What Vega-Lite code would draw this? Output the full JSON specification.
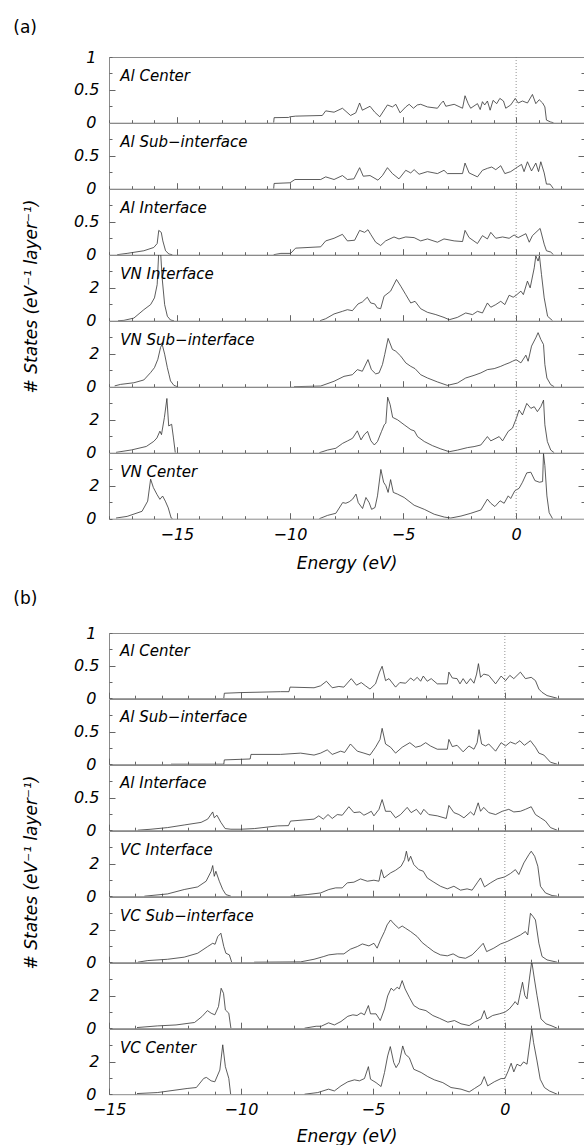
{
"$schema": "https://vega.github.io/schema/vega-lite/v6.json",
"padding": {"left": 13, "top": 18, "right": 1, "bottom": 0},
"config": {
 "font": "DejaVu Sans",
 "view": {"stroke": "#8a8a8a", "strokeWidth": 1},
 "axis": {"domain": false, "grid": false, "ticks": true, "tickDash": [], "labelFont": "DejaVu Sans", "labelFontStyle": "italic", "labelFontSize": 16, "labelColor": "#000", "tickColor": "#666", "tickWidth": 1, "titleFont": "DejaVu Sans", "titleFontStyle": "italic", "titleFontWeight": "normal", "titleFontSize": 17, "titleColor": "#000", "labelOverlap": false, "labelFlush": false, "zindex": 1}
},
"datasets": {
 "a1": [{"x":-10.72,"y":0},{"x":-10.7,"y":0.077},{"x":-10.06,"y":0.08},{"x":-10.0,"y":0.09},{"x":-9.75,"y":0.1},{"x":-8.57,"y":0.11},{"x":-8.42,"y":0.18},{"x":-8.05,"y":0.16},{"x":-7.68,"y":0.22},{"x":-7.32,"y":0.11},{"x":-7.09,"y":0.15},{"x":-6.92,"y":0.3},{"x":-6.8,"y":0.19},{"x":-6.46,"y":0.25},{"x":-6.25,"y":0.16},{"x":-6.03,"y":0.09},{"x":-5.69,"y":0.27},{"x":-5.47,"y":0.24},{"x":-5.32,"y":0.28},{"x":-5.13,"y":0.15},{"x":-4.88,"y":0.24},{"x":-4.73,"y":0.28},{"x":-4.54,"y":0.22},{"x":-4.37,"y":0.27},{"x":-4.22,"y":0.28},{"x":-3.92,"y":0.24},{"x":-3.48,"y":0.22},{"x":-3.33,"y":0.29},{"x":-3.22,"y":0.33},{"x":-3.11,"y":0.25},{"x":-2.74,"y":0.28},{"x":-2.37,"y":0.22},{"x":-2.26,"y":0.41},{"x":-2.12,"y":0.29},{"x":-2.01,"y":0.22},{"x":-1.71,"y":0.29},{"x":-1.59,"y":0.2},{"x":-1.49,"y":0.32},{"x":-1.39,"y":0.27},{"x":-1.27,"y":0.33},{"x":-1.15,"y":0.19},{"x":-1.02,"y":0.34},{"x":-0.86,"y":0.29},{"x":-0.72,"y":0.37},{"x":-0.56,"y":0.33},{"x":-0.46,"y":0.22},{"x":-0.24,"y":0.27},{"x":-0.04,"y":0.37},{"x":0.09,"y":0.3},{"x":0.28,"y":0.33},{"x":0.5,"y":0.3},{"x":0.72,"y":0.43},{"x":0.87,"y":0.29},{"x":1.02,"y":0.35},{"x":1.17,"y":0.3},{"x":1.27,"y":0.24},{"x":1.34,"y":0.04},{"x":1.53,"y":0.01},{"x":1.65,"y":0}],
 "a2": [{"x":-10.72,"y":0},{"x":-10.7,"y":0.08},{"x":-10.0,"y":0.09},{"x":-9.78,"y":0.14},{"x":-8.64,"y":0.14},{"x":-8.42,"y":0.18},{"x":-8.05,"y":0.14},{"x":-7.68,"y":0.2},{"x":-7.46,"y":0.14},{"x":-7.17,"y":0.15},{"x":-6.92,"y":0.32},{"x":-6.76,"y":0.19},{"x":-6.46,"y":0.2},{"x":-6.11,"y":0.13},{"x":-5.91,"y":0.2},{"x":-5.69,"y":0.32},{"x":-5.47,"y":0.23},{"x":-5.18,"y":0.15},{"x":-4.88,"y":0.28},{"x":-4.66,"y":0.24},{"x":-4.51,"y":0.29},{"x":-4.29,"y":0.22},{"x":-3.92,"y":0.26},{"x":-3.48,"y":0.23},{"x":-3.19,"y":0.28},{"x":-3.04,"y":0.23},{"x":-2.37,"y":0.23},{"x":-2.26,"y":0.39},{"x":-2.08,"y":0.24},{"x":-1.71,"y":0.18},{"x":-1.49,"y":0.28},{"x":-1.27,"y":0.31},{"x":-1.08,"y":0.33},{"x":-0.9,"y":0.29},{"x":-0.68,"y":0.35},{"x":-0.5,"y":0.23},{"x":-0.24,"y":0.26},{"x":0.06,"y":0.33},{"x":0.24,"y":0.37},{"x":0.35,"y":0.26},{"x":0.5,"y":0.41},{"x":0.68,"y":0.27},{"x":0.87,"y":0.39},{"x":0.99,"y":0.26},{"x":1.09,"y":0.41},{"x":1.24,"y":0.24},{"x":1.34,"y":0.07},{"x":1.5,"y":0.07},{"x":1.65,"y":0}],
 "a3": [{"x":-17.64,"y":0,"g":1},{"x":-17.2,"y":0.02,"g":1},{"x":-16.46,"y":0.06,"g":1},{"x":-16.02,"y":0.11,"g":1},{"x":-15.87,"y":0.17,"g":1},{"x":-15.8,"y":0.37,"g":1},{"x":-15.69,"y":0.34,"g":1},{"x":-15.62,"y":0.21,"g":1},{"x":-15.5,"y":0.06,"g":1},{"x":-15.35,"y":0.01,"g":1},{"x":-15.2,"y":0,"g":1},
  {"x":-10.72,"y":0,"g":2},{"x":-10.4,"y":0.02,"g":2},{"x":-9.97,"y":0.02,"g":2},{"x":-9.75,"y":0.1,"g":2},{"x":-8.64,"y":0.12,"g":2},{"x":-8.42,"y":0.21,"g":2},{"x":-8.05,"y":0.25,"g":2},{"x":-7.68,"y":0.31,"g":2},{"x":-7.46,"y":0.21,"g":2},{"x":-7.14,"y":0.22,"g":2},{"x":-6.92,"y":0.37,"g":2},{"x":-6.7,"y":0.34,"g":2},{"x":-6.55,"y":0.38,"g":2},{"x":-6.43,"y":0.31,"g":2},{"x":-6.21,"y":0.19,"g":2},{"x":-5.99,"y":0.14,"g":2},{"x":-5.77,"y":0.21,"g":2},{"x":-5.4,"y":0.27,"g":2},{"x":-5.18,"y":0.24,"g":2},{"x":-4.88,"y":0.27,"g":2},{"x":-4.51,"y":0.26,"g":2},{"x":-4.22,"y":0.21,"g":2},{"x":-3.92,"y":0.24,"g":2},{"x":-3.48,"y":0.19,"g":2},{"x":-3.19,"y":0.24,"g":2},{"x":-2.74,"y":0.21,"g":2},{"x":-2.37,"y":0.2,"g":2},{"x":-2.26,"y":0.37,"g":2},{"x":-2.08,"y":0.26,"g":2},{"x":-1.71,"y":0.17,"g":2},{"x":-1.49,"y":0.29,"g":2},{"x":-1.27,"y":0.24,"g":2},{"x":-1.12,"y":0.34,"g":2},{"x":-0.9,"y":0.25,"g":2},{"x":-0.6,"y":0.27,"g":2},{"x":-0.31,"y":0.25,"g":2},{"x":-0.09,"y":0.3,"g":2},{"x":0.09,"y":0.26,"g":2},{"x":0.43,"y":0.32,"g":2},{"x":0.58,"y":0.19,"g":2},{"x":0.72,"y":0.29,"g":2},{"x":1.06,"y":0.4,"g":2},{"x":1.24,"y":0.16,"g":2},{"x":1.34,"y":0.06,"g":2},{"x":1.53,"y":0.04,"g":2},{"x":1.65,"y":0,"g":2}],
 "a4": [{"x":-17.6,"y":0,"g":1},{"x":-17.34,"y":0.02,"g":1},{"x":-16.9,"y":0.16,"g":1},{"x":-16.46,"y":0.67,"g":1},{"x":-16.16,"y":0.98,"g":1},{"x":-15.99,"y":1.39,"g":1},{"x":-15.87,"y":2.2,"g":1},{"x":-15.8,"y":4.2,"g":1},{"x":-15.72,"y":4.2,"g":1},{"x":-15.65,"y":2.6,"g":1},{"x":-15.54,"y":0.98,"g":1},{"x":-15.42,"y":0.27,"g":1},{"x":-15.28,"y":0.04,"g":1},{"x":-15.13,"y":0,"g":1},
  {"x":-8.67,"y":0,"g":2},{"x":-8.42,"y":0.12,"g":2},{"x":-8.05,"y":0.41,"g":2},{"x":-7.68,"y":0.57,"g":2},{"x":-7.46,"y":0.67,"g":2},{"x":-7.24,"y":0.61,"g":2},{"x":-6.99,"y":1.02,"g":2},{"x":-6.8,"y":1.14,"g":2},{"x":-6.58,"y":1.43,"g":2},{"x":-6.43,"y":1.08,"g":2},{"x":-6.25,"y":1.02,"g":2},{"x":-6.14,"y":0.78,"g":2},{"x":-5.99,"y":0.73,"g":2},{"x":-5.84,"y":1.49,"g":2},{"x":-5.55,"y":1.8,"g":2},{"x":-5.29,"y":2.51,"g":2},{"x":-5.1,"y":2.1,"g":2},{"x":-4.88,"y":1.59,"g":2},{"x":-4.66,"y":1.08,"g":2},{"x":-4.47,"y":1.18,"g":2},{"x":-4.22,"y":0.73,"g":2},{"x":-3.92,"y":0.51,"g":2},{"x":-3.55,"y":0.37,"g":2},{"x":-3.19,"y":0.2,"g":2},{"x":-2.96,"y":0.06,"g":2},{"x":-2.6,"y":0.2,"g":2},{"x":-2.23,"y":0.47,"g":2},{"x":-1.93,"y":0.37,"g":2},{"x":-1.71,"y":0.57,"g":2},{"x":-1.49,"y":0.47,"g":2},{"x":-1.27,"y":1.08,"g":2},{"x":-1.12,"y":0.82,"g":2},{"x":-0.9,"y":0.98,"g":2},{"x":-0.68,"y":1.18,"g":2},{"x":-0.5,"y":0.98,"g":2},{"x":-0.31,"y":1.55,"g":2},{"x":-0.13,"y":1.43,"g":2},{"x":0,"y":1.55,"g":2},{"x":0.21,"y":1.8,"g":2},{"x":0.32,"y":1.59,"g":2},{"x":0.5,"y":2.41,"g":2},{"x":0.62,"y":2.0,"g":2},{"x":0.8,"y":3.22,"g":2},{"x":0.87,"y":3.94,"g":2},{"x":0.97,"y":3.63,"g":2},{"x":1.03,"y":3.94,"g":2},{"x":1.12,"y":2.82,"g":2},{"x":1.24,"y":1.39,"g":2},{"x":1.39,"y":0.27,"g":2},{"x":1.61,"y":0,"g":2}],
 "a5": [{"x":-17.75,"y":0.05,"g":1},{"x":-17.49,"y":0.14,"g":1},{"x":-16.9,"y":0.24,"g":1},{"x":-16.46,"y":0.41,"g":1},{"x":-16.16,"y":0.86,"g":1},{"x":-15.99,"y":1.16,"g":1},{"x":-15.84,"y":1.67,"g":1},{"x":-15.72,"y":2.39,"g":1},{"x":-15.65,"y":2.59,"g":1},{"x":-15.54,"y":1.98,"g":1},{"x":-15.42,"y":1.16,"g":1},{"x":-15.35,"y":0.76,"g":1},{"x":-15.28,"y":0.35,"g":1},{"x":-15.13,"y":0.08,"g":1},{"x":-14.98,"y":0,"g":1},
  {"x":-9.82,"y":0,"g":2},{"x":-8.64,"y":0.04,"g":2},{"x":-8.05,"y":0.33,"g":2},{"x":-7.61,"y":0.63,"g":2},{"x":-7.24,"y":0.73,"g":2},{"x":-7.02,"y":1.04,"g":2},{"x":-6.8,"y":0.94,"g":2},{"x":-6.55,"y":1.65,"g":2},{"x":-6.4,"y":1.04,"g":2},{"x":-6.21,"y":0.78,"g":2},{"x":-6.06,"y":0.84,"g":2},{"x":-5.91,"y":1.35,"g":2},{"x":-5.81,"y":1.96,"g":2},{"x":-5.66,"y":2.94,"g":2},{"x":-5.47,"y":2.27,"g":2},{"x":-5.32,"y":2.16,"g":2},{"x":-5.1,"y":1.86,"g":2},{"x":-4.88,"y":1.45,"g":2},{"x":-4.66,"y":1.24,"g":2},{"x":-4.47,"y":1.1,"g":2},{"x":-4.22,"y":0.73,"g":2},{"x":-3.92,"y":0.53,"g":2},{"x":-3.48,"y":0.29,"g":2},{"x":-3.04,"y":0.08,"g":2},{"x":-2.6,"y":0.22,"g":2},{"x":-2.23,"y":0.53,"g":2},{"x":-1.86,"y":0.69,"g":2},{"x":-1.56,"y":0.84,"g":2},{"x":-1.27,"y":1.04,"g":2},{"x":-0.97,"y":1.1,"g":2},{"x":-0.68,"y":1.24,"g":2},{"x":-0.5,"y":1.35,"g":2},{"x":-0.31,"y":1.45,"g":2},{"x":-0.16,"y":1.55,"g":2},{"x":0,"y":1.65,"g":2},{"x":0.21,"y":1.45,"g":2},{"x":0.43,"y":1.92,"g":2},{"x":0.53,"y":1.55,"g":2},{"x":0.68,"y":2.47,"g":2},{"x":0.87,"y":2.98,"g":2},{"x":0.97,"y":3.29,"g":2},{"x":1.09,"y":2.88,"g":2},{"x":1.21,"y":2.57,"g":2},{"x":1.27,"y":1.35,"g":2},{"x":1.36,"y":0.53,"g":2},{"x":1.53,"y":0.12,"g":2},{"x":1.68,"y":0,"g":2}],
 "a6": [{"x":-17.69,"y":0.02,"g":1},{"x":-17.0,"y":0.17,"g":1},{"x":-16.35,"y":0.38,"g":1},{"x":-16.02,"y":0.69,"g":1},{"x":-15.88,"y":0.9,"g":1},{"x":-15.75,"y":1.31,"g":1},{"x":-15.68,"y":1.1,"g":1},{"x":-15.55,"y":2.15,"g":1},{"x":-15.44,"y":3.3,"g":1},{"x":-15.36,"y":1.63,"g":1},{"x":-15.23,"y":1.73,"g":1},{"x":-15.15,"y":0.9,"g":1},{"x":-15.07,"y":0,"g":1},
  {"x":-8.7,"y":0,"g":2},{"x":-8.34,"y":0.16,"g":2},{"x":-7.97,"y":0.27,"g":2},{"x":-7.67,"y":0.57,"g":2},{"x":-7.45,"y":0.72,"g":2},{"x":-7.23,"y":0.88,"g":2},{"x":-7.02,"y":1.33,"g":2},{"x":-6.86,"y":0.78,"g":2},{"x":-6.72,"y":1.09,"g":2},{"x":-6.57,"y":1.3,"g":2},{"x":-6.42,"y":0.72,"g":2},{"x":-6.27,"y":0.47,"g":2},{"x":-6.13,"y":0.68,"g":2},{"x":-5.95,"y":1.3,"g":2},{"x":-5.83,"y":1.7,"g":2},{"x":-5.76,"y":1.8,"g":2},{"x":-5.68,"y":3.38,"g":2},{"x":-5.57,"y":2.93,"g":2},{"x":-5.46,"y":2.15,"g":2},{"x":-5.24,"y":2.0,"g":2},{"x":-4.95,"y":1.7,"g":2},{"x":-4.65,"y":1.4,"g":2},{"x":-4.5,"y":1.33,"g":2},{"x":-4.36,"y":0.98,"g":2},{"x":-4.06,"y":0.68,"g":2},{"x":-3.7,"y":0.43,"g":2},{"x":-3.33,"y":0.23,"g":2},{"x":-2.96,"y":0.06,"g":2},{"x":-2.59,"y":0.16,"g":2},{"x":-2.15,"y":0.31,"g":2},{"x":-1.86,"y":0.37,"g":2},{"x":-1.56,"y":0.47,"g":2},{"x":-1.27,"y":0.98,"g":2},{"x":-1.12,"y":0.72,"g":2},{"x":-0.75,"y":0.98,"g":2},{"x":-0.6,"y":0.72,"g":2},{"x":-0.35,"y":1.3,"g":2},{"x":-0.16,"y":1.5,"g":2},{"x":0.01,"y":2.1,"g":2},{"x":0.13,"y":2.6,"g":2},{"x":0.28,"y":2.3,"g":2},{"x":0.47,"y":3.0,"g":2},{"x":0.65,"y":2.7,"g":2},{"x":0.8,"y":2.8,"g":2},{"x":0.94,"y":2.5,"g":2},{"x":1.09,"y":2.8,"g":2},{"x":1.21,"y":3.2,"g":2},{"x":1.27,"y":1.7,"g":2},{"x":1.38,"y":0.68,"g":2},{"x":1.53,"y":0.16,"g":2},{"x":1.68,"y":0,"g":2}],
 "a7": [{"x":-17.69,"y":0.04,"g":1},{"x":-17.2,"y":0.14,"g":1},{"x":-16.54,"y":0.45,"g":1},{"x":-16.29,"y":1.07,"g":1},{"x":-16.16,"y":2.41,"g":1},{"x":-16.04,"y":1.9,"g":1},{"x":-15.88,"y":1.48,"g":1},{"x":-15.75,"y":1.18,"g":1},{"x":-15.63,"y":1.38,"g":1},{"x":-15.51,"y":1.07,"g":1},{"x":-15.38,"y":0.66,"g":1},{"x":-15.25,"y":0.04,"g":1},{"x":-15.19,"y":0,"g":1},
  {"x":-8.7,"y":0,"g":2},{"x":-8.34,"y":0.2,"g":2},{"x":-7.97,"y":0.33,"g":2},{"x":-7.67,"y":0.98,"g":2},{"x":-7.53,"y":0.94,"g":2},{"x":-7.38,"y":1.03,"g":2},{"x":-7.23,"y":1.19,"g":2},{"x":-7.08,"y":1.5,"g":2},{"x":-6.98,"y":0.98,"g":2},{"x":-6.79,"y":0.62,"g":2},{"x":-6.64,"y":1.29,"g":2},{"x":-6.5,"y":0.98,"g":2},{"x":-6.39,"y":0.57,"g":2},{"x":-6.24,"y":0.68,"g":2},{"x":-6.13,"y":1.39,"g":2},{"x":-5.98,"y":3.0,"g":2},{"x":-5.86,"y":2.22,"g":2},{"x":-5.76,"y":2.01,"g":2},{"x":-5.66,"y":1.6,"g":2},{"x":-5.55,"y":2.38,"g":2},{"x":-5.43,"y":1.6,"g":2},{"x":-5.25,"y":1.5,"g":2},{"x":-4.95,"y":1.29,"g":2},{"x":-4.51,"y":0.82,"g":2},{"x":-4.06,"y":0.57,"g":2},{"x":-3.62,"y":0.27,"g":2},{"x":-3.18,"y":0.1,"g":2},{"x":-2.89,"y":0.04,"g":2},{"x":-2.44,"y":0.16,"g":2},{"x":-2.0,"y":0.33,"g":2},{"x":-1.56,"y":0.53,"g":2},{"x":-1.27,"y":1.19,"g":2},{"x":-1.12,"y":0.94,"g":2},{"x":-0.94,"y":0.74,"g":2},{"x":-0.71,"y":1.09,"g":2},{"x":-0.53,"y":0.94,"g":2},{"x":-0.35,"y":1.39,"g":2},{"x":-0.24,"y":1.23,"g":2},{"x":-0.06,"y":1.7,"g":2},{"x":0.13,"y":1.85,"g":2},{"x":0.28,"y":2.22,"g":2},{"x":0.47,"y":2.79,"g":2},{"x":0.65,"y":2.83,"g":2},{"x":0.83,"y":2.32,"g":2},{"x":1.03,"y":2.22,"g":2},{"x":1.17,"y":2.26,"g":2},{"x":1.21,"y":3.96,"g":2},{"x":1.27,"y":3.24,"g":2},{"x":1.36,"y":1.39,"g":2},{"x":1.46,"y":0.37,"g":2},{"x":1.61,"y":0,"g":2}],
 "b1": [{"x":-10.65,"y":0},{"x":-10.63,"y":0.076},{"x":-10.0,"y":0.086},{"x":-8.5,"y":0.1},{"x":-8.18,"y":0.1},{"x":-8.14,"y":0.17},{"x":-7.23,"y":0.16},{"x":-6.98,"y":0.19},{"x":-6.76,"y":0.26},{"x":-6.54,"y":0.16},{"x":-6.29,"y":0.18},{"x":-6.1,"y":0.17},{"x":-5.82,"y":0.3},{"x":-5.62,"y":0.2},{"x":-5.44,"y":0.24},{"x":-5.28,"y":0.19},{"x":-5.11,"y":0.14},{"x":-4.9,"y":0.22},{"x":-4.75,"y":0.4},{"x":-4.65,"y":0.49},{"x":-4.52,"y":0.27},{"x":-4.39,"y":0.3},{"x":-4.14,"y":0.17},{"x":-3.98,"y":0.24},{"x":-3.76,"y":0.23},{"x":-3.57,"y":0.31},{"x":-3.45,"y":0.27},{"x":-3.32,"y":0.32},{"x":-3.19,"y":0.26},{"x":-3.09,"y":0.34},{"x":-2.94,"y":0.26},{"x":-2.79,"y":0.3},{"x":-2.56,"y":0.22},{"x":-2.18,"y":0.22},{"x":-2.12,"y":0.4},{"x":-1.99,"y":0.31},{"x":-1.81,"y":0.3},{"x":-1.7,"y":0.22},{"x":-1.58,"y":0.3},{"x":-1.45,"y":0.22},{"x":-1.3,"y":0.3},{"x":-1.17,"y":0.23},{"x":-1.07,"y":0.37},{"x":-1.0,"y":0.53},{"x":-0.92,"y":0.32},{"x":-0.8,"y":0.37},{"x":-0.61,"y":0.35},{"x":-0.35,"y":0.22},{"x":-0.14,"y":0.34},{"x":0.03,"y":0.27},{"x":0.19,"y":0.35},{"x":0.34,"y":0.3},{"x":0.59,"y":0.4},{"x":0.78,"y":0.3},{"x":1.0,"y":0.32},{"x":1.16,"y":0.27},{"x":1.29,"y":0.14},{"x":1.41,"y":0.09},{"x":1.6,"y":0.04},{"x":1.98,"y":0}],
 "b2": [{"x":-12.65,"y":0},{"x":-10.65,"y":0},{"x":-10.63,"y":0.066},{"x":-9.65,"y":0.08},{"x":-9.62,"y":0.15},{"x":-8.5,"y":0.15},{"x":-7.74,"y":0.17},{"x":-7.23,"y":0.14},{"x":-6.98,"y":0.17},{"x":-6.73,"y":0.22},{"x":-6.54,"y":0.15},{"x":-6.22,"y":0.2},{"x":-6.07,"y":0.18},{"x":-5.85,"y":0.31},{"x":-5.59,"y":0.2},{"x":-5.34,"y":0.17},{"x":-5.11,"y":0.14},{"x":-4.9,"y":0.26},{"x":-4.73,"y":0.38},{"x":-4.65,"y":0.55},{"x":-4.52,"y":0.31},{"x":-4.33,"y":0.26},{"x":-4.14,"y":0.17},{"x":-3.89,"y":0.26},{"x":-3.6,"y":0.33},{"x":-3.38,"y":0.26},{"x":-3.19,"y":0.28},{"x":-3.0,"y":0.33},{"x":-2.82,"y":0.28},{"x":-2.56,"y":0.23},{"x":-2.18,"y":0.23},{"x":-2.12,"y":0.38},{"x":-1.99,"y":0.27},{"x":-1.81,"y":0.29},{"x":-1.58,"y":0.19},{"x":-1.36,"y":0.28},{"x":-1.17,"y":0.23},{"x":-1.05,"y":0.33},{"x":-0.98,"y":0.53},{"x":-0.88,"y":0.31},{"x":-0.73,"y":0.28},{"x":-0.61,"y":0.31},{"x":-0.35,"y":0.2},{"x":-0.14,"y":0.33},{"x":0.03,"y":0.28},{"x":0.21,"y":0.34},{"x":0.4,"y":0.31},{"x":0.57,"y":0.36},{"x":0.74,"y":0.29},{"x":0.97,"y":0.36},{"x":1.16,"y":0.26},{"x":1.29,"y":0.17},{"x":1.48,"y":0.14},{"x":1.73,"y":0.03},{"x":1.98,"y":0}],
 "b3": [{"x":-13.91,"y":0},{"x":-13.41,"y":0.015},{"x":-12.78,"y":0.04},{"x":-12.15,"y":0.08},{"x":-11.51,"y":0.12},{"x":-11.26,"y":0.17},{"x":-11.07,"y":0.28},{"x":-11.01,"y":0.19},{"x":-10.91,"y":0.23},{"x":-10.76,"y":0.12},{"x":-10.6,"y":0.025},{"x":-10.38,"y":0.015},{"x":-10.0,"y":0.015},{"x":-9.49,"y":0.025},{"x":-8.61,"y":0.066},{"x":-8.2,"y":0.07},{"x":-8.12,"y":0.14},{"x":-7.23,"y":0.17},{"x":-7.05,"y":0.22},{"x":-6.88,"y":0.17},{"x":-6.7,"y":0.24},{"x":-6.54,"y":0.18},{"x":-6.35,"y":0.24},{"x":-6.16,"y":0.23},{"x":-5.91,"y":0.36},{"x":-5.72,"y":0.27},{"x":-5.49,"y":0.28},{"x":-5.34,"y":0.23},{"x":-5.19,"y":0.26},{"x":-5.06,"y":0.29},{"x":-4.96,"y":0.22},{"x":-4.77,"y":0.32},{"x":-4.65,"y":0.47},{"x":-4.52,"y":0.29},{"x":-4.33,"y":0.29},{"x":-4.14,"y":0.19},{"x":-3.95,"y":0.24},{"x":-3.7,"y":0.35},{"x":-3.55,"y":0.27},{"x":-3.35,"y":0.32},{"x":-3.19,"y":0.24},{"x":-3.07,"y":0.32},{"x":-2.88,"y":0.24},{"x":-2.56,"y":0.22},{"x":-2.22,"y":0.18},{"x":-2.12,"y":0.38},{"x":-1.93,"y":0.27},{"x":-1.74,"y":0.24},{"x":-1.55,"y":0.19},{"x":-1.3,"y":0.28},{"x":-1.17,"y":0.23},{"x":-1.01,"y":0.42},{"x":-0.92,"y":0.29},{"x":-0.8,"y":0.35},{"x":-0.61,"y":0.27},{"x":-0.35,"y":0.24},{"x":-0.1,"y":0.29},{"x":0.15,"y":0.32},{"x":0.34,"y":0.28},{"x":0.59,"y":0.29},{"x":0.78,"y":0.32},{"x":1.0,"y":0.36},{"x":1.16,"y":0.24},{"x":1.35,"y":0.19},{"x":1.54,"y":0.14},{"x":1.73,"y":0.04},{"x":1.98,"y":0}],
 "b4": [{"x":-13.66,"y":0,"g":1},{"x":-12.78,"y":0.14,"g":1},{"x":-12.15,"y":0.41,"g":1},{"x":-11.64,"y":0.57,"g":1},{"x":-11.32,"y":0.92,"g":1},{"x":-11.13,"y":1.53,"g":1},{"x":-11.07,"y":1.88,"g":1},{"x":-11.01,"y":1.22,"g":1},{"x":-10.95,"y":1.53,"g":1},{"x":-10.82,"y":0.92,"g":1},{"x":-10.69,"y":0.41,"g":1},{"x":-10.57,"y":0.1,"g":1},{"x":-10.38,"y":0,"g":1},
  {"x":-8.12,"y":0,"g":2},{"x":-7.49,"y":0.1,"g":2},{"x":-6.98,"y":0.2,"g":2},{"x":-6.67,"y":0.41,"g":2},{"x":-6.41,"y":0.51,"g":2},{"x":-6.16,"y":0.51,"g":2},{"x":-5.97,"y":0.82,"g":2},{"x":-5.72,"y":0.86,"g":2},{"x":-5.47,"y":1.06,"g":2},{"x":-5.21,"y":0.92,"g":2},{"x":-4.96,"y":0.98,"g":2},{"x":-4.77,"y":0.92,"g":2},{"x":-4.68,"y":1.63,"g":2},{"x":-4.58,"y":1.12,"g":2},{"x":-4.33,"y":1.43,"g":2},{"x":-4.14,"y":1.59,"g":2},{"x":-3.93,"y":1.84,"g":2},{"x":-3.8,"y":2.24,"g":2},{"x":-3.73,"y":2.76,"g":2},{"x":-3.65,"y":2.14,"g":2},{"x":-3.57,"y":2.45,"g":2},{"x":-3.45,"y":1.94,"g":2},{"x":-3.26,"y":1.63,"g":2},{"x":-3.09,"y":1.53,"g":2},{"x":-2.94,"y":1.12,"g":2},{"x":-2.69,"y":0.86,"g":2},{"x":-2.44,"y":0.61,"g":2},{"x":-2.18,"y":0.45,"g":2},{"x":-1.93,"y":0.61,"g":2},{"x":-1.68,"y":0.37,"g":2},{"x":-1.43,"y":0.45,"g":2},{"x":-1.24,"y":0.37,"g":2},{"x":-1.05,"y":0.82,"g":2},{"x":-0.92,"y":1.12,"g":2},{"x":-0.77,"y":0.57,"g":2},{"x":-0.54,"y":0.82,"g":2},{"x":-0.29,"y":1.06,"g":2},{"x":-0.01,"y":1.18,"g":2},{"x":0.21,"y":1.39,"g":2},{"x":0.4,"y":1.63,"g":2},{"x":0.53,"y":1.33,"g":2},{"x":0.72,"y":2.04,"g":2},{"x":0.91,"y":2.55,"g":2},{"x":1.0,"y":2.76,"g":2},{"x":1.13,"y":2.45,"g":2},{"x":1.25,"y":1.84,"g":2},{"x":1.35,"y":0.61,"g":2},{"x":1.54,"y":0.2,"g":2},{"x":1.79,"y":0.04,"g":2},{"x":1.98,"y":0,"g":2}],
 "b5": [{"x":-13.91,"y":0,"g":1},{"x":-13.53,"y":0.1,"g":1},{"x":-12.78,"y":0.18,"g":1},{"x":-12.15,"y":0.31,"g":1},{"x":-11.64,"y":0.55,"g":1},{"x":-11.26,"y":0.96,"g":1},{"x":-11.07,"y":1.16,"g":1},{"x":-10.98,"y":1.1,"g":1},{"x":-10.88,"y":1.57,"g":1},{"x":-10.76,"y":1.78,"g":1},{"x":-10.65,"y":0.96,"g":1},{"x":-10.57,"y":0.55,"g":1},{"x":-10.44,"y":0.45,"g":1},{"x":-10.35,"y":0,"g":1},
  {"x":-9.5,"y":0,"g":2},{"x":-7.74,"y":0.02,"g":2},{"x":-7.23,"y":0.18,"g":2},{"x":-6.86,"y":0.35,"g":2},{"x":-6.67,"y":0.45,"g":2},{"x":-6.35,"y":0.51,"g":2},{"x":-6.1,"y":0.51,"g":2},{"x":-5.85,"y":0.8,"g":2},{"x":-5.59,"y":0.96,"g":2},{"x":-5.4,"y":1.12,"g":2},{"x":-5.15,"y":1.0,"g":2},{"x":-4.96,"y":1.16,"g":2},{"x":-4.84,"y":0.86,"g":2},{"x":-4.71,"y":1.37,"g":2},{"x":-4.56,"y":1.88,"g":2},{"x":-4.46,"y":2.29,"g":2},{"x":-4.33,"y":2.59,"g":2},{"x":-4.2,"y":2.35,"g":2},{"x":-4.02,"y":2.08,"g":2},{"x":-3.89,"y":2.22,"g":2},{"x":-3.76,"y":2.08,"g":2},{"x":-3.57,"y":1.88,"g":2},{"x":-3.32,"y":1.57,"g":2},{"x":-3.13,"y":1.2,"g":2},{"x":-2.94,"y":0.96,"g":2},{"x":-2.69,"y":0.65,"g":2},{"x":-2.44,"y":0.45,"g":2},{"x":-2.18,"y":0.39,"g":2},{"x":-1.96,"y":0.51,"g":2},{"x":-1.74,"y":0.31,"g":2},{"x":-1.49,"y":0.24,"g":2},{"x":-1.24,"y":0.45,"g":2},{"x":-1.05,"y":0.76,"g":2},{"x":-0.82,"y":1.16,"g":2},{"x":-0.69,"y":0.65,"g":2},{"x":-0.42,"y":0.86,"g":2},{"x":-0.16,"y":1.12,"g":2},{"x":0.09,"y":1.27,"g":2},{"x":0.34,"y":1.47,"g":2},{"x":0.59,"y":1.67,"g":2},{"x":0.78,"y":1.88,"g":2},{"x":0.87,"y":1.67,"g":2},{"x":0.97,"y":3.0,"g":2},{"x":1.07,"y":2.8,"g":2},{"x":1.16,"y":2.59,"g":2},{"x":1.29,"y":1.16,"g":2},{"x":1.41,"y":0.35,"g":2},{"x":1.6,"y":0.14,"g":2},{"x":1.98,"y":0,"g":2}],
 "b6": [{"x":-13.94,"y":0.04,"g":1},{"x":-13.17,"y":0.14,"g":1},{"x":-12.46,"y":0.2,"g":1},{"x":-11.76,"y":0.35,"g":1},{"x":-11.48,"y":0.71,"g":1},{"x":-11.27,"y":1.08,"g":1},{"x":-11.13,"y":0.92,"g":1},{"x":-10.99,"y":0.82,"g":1},{"x":-10.85,"y":1.33,"g":1},{"x":-10.75,"y":2.45,"g":1},{"x":-10.66,"y":2.14,"g":1},{"x":-10.59,"y":1.12,"g":1},{"x":-10.46,"y":0.92,"g":1},{"x":-10.38,"y":0,"g":1},
  {"x":-7.59,"y":0,"g":2},{"x":-7.15,"y":0.12,"g":2},{"x":-6.96,"y":0.12,"g":2},{"x":-6.68,"y":0.33,"g":2},{"x":-6.46,"y":0.2,"g":2},{"x":-6.21,"y":0.41,"g":2},{"x":-5.95,"y":0.73,"g":2},{"x":-5.76,"y":0.82,"g":2},{"x":-5.6,"y":0.78,"g":2},{"x":-5.45,"y":0.94,"g":2},{"x":-5.32,"y":0.82,"g":2},{"x":-5.17,"y":1.39,"g":2},{"x":-5.09,"y":0.88,"g":2},{"x":-4.88,"y":0.88,"g":2},{"x":-4.72,"y":0.47,"g":2},{"x":-4.56,"y":1.18,"g":2},{"x":-4.44,"y":1.98,"g":2},{"x":-4.31,"y":2.45,"g":2},{"x":-4.21,"y":2.31,"g":2},{"x":-4.08,"y":2.51,"g":2},{"x":-4.0,"y":2.41,"g":2},{"x":-3.89,"y":2.92,"g":2},{"x":-3.78,"y":2.41,"g":2},{"x":-3.62,"y":1.9,"g":2},{"x":-3.45,"y":1.39,"g":2},{"x":-3.24,"y":1.18,"g":2},{"x":-2.99,"y":1.08,"g":2},{"x":-2.73,"y":0.78,"g":2},{"x":-2.48,"y":0.61,"g":2},{"x":-2.16,"y":0.37,"g":2},{"x":-1.91,"y":0.47,"g":2},{"x":-1.66,"y":0.27,"g":2},{"x":-1.35,"y":0.16,"g":2},{"x":-1.15,"y":0.37,"g":2},{"x":-0.9,"y":0.57,"g":2},{"x":-0.78,"y":1.08,"g":2},{"x":-0.68,"y":0.57,"g":2},{"x":-0.46,"y":0.78,"g":2},{"x":-0.21,"y":0.88,"g":2},{"x":0,"y":0.98,"g":2},{"x":0.17,"y":1.18,"g":2},{"x":0.3,"y":1.43,"g":2},{"x":0.39,"y":1.63,"g":2},{"x":0.49,"y":1.43,"g":2},{"x":0.59,"y":2.2,"g":2},{"x":0.67,"y":2.82,"g":2},{"x":0.76,"y":2.0,"g":2},{"x":0.84,"y":1.8,"g":2},{"x":0.93,"y":3.02,"g":2},{"x":1.02,"y":4.1,"g":2},{"x":1.12,"y":3.02,"g":2},{"x":1.22,"y":2.0,"g":2},{"x":1.37,"y":0.57,"g":2},{"x":1.56,"y":0.27,"g":2},{"x":1.75,"y":0.16,"g":2},{"x":1.98,"y":0,"g":2}],
 "b7": [{"x":-13.94,"y":0.04,"g":1},{"x":-13.17,"y":0.1,"g":1},{"x":-12.04,"y":0.35,"g":1},{"x":-11.69,"y":0.41,"g":1},{"x":-11.41,"y":0.97,"g":1},{"x":-11.31,"y":1.03,"g":1},{"x":-11.13,"y":0.82,"g":1},{"x":-10.99,"y":0.76,"g":1},{"x":-10.8,"y":1.48,"g":1},{"x":-10.69,"y":3.03,"g":1},{"x":-10.59,"y":1.69,"g":1},{"x":-10.46,"y":0.97,"g":1},{"x":-10.39,"y":0,"g":1},
  {"x":-7.59,"y":0,"g":2},{"x":-7.09,"y":0.1,"g":2},{"x":-6.68,"y":0.31,"g":2},{"x":-6.46,"y":0.2,"g":2},{"x":-6.21,"y":0.51,"g":2},{"x":-5.95,"y":0.76,"g":2},{"x":-5.7,"y":0.88,"g":2},{"x":-5.51,"y":0.82,"g":2},{"x":-5.32,"y":0.96,"g":2},{"x":-5.17,"y":1.69,"g":2},{"x":-5.09,"y":0.92,"g":2},{"x":-4.88,"y":0.71,"g":2},{"x":-4.69,"y":0.47,"g":2},{"x":-4.56,"y":1.33,"g":2},{"x":-4.44,"y":2.35,"g":2},{"x":-4.34,"y":2.92,"g":2},{"x":-4.21,"y":1.94,"g":2},{"x":-4.12,"y":1.63,"g":2},{"x":-4.0,"y":1.94,"g":2},{"x":-3.87,"y":2.96,"g":2},{"x":-3.77,"y":2.45,"g":2},{"x":-3.62,"y":2.24,"g":2},{"x":-3.45,"y":1.53,"g":2},{"x":-3.17,"y":1.33,"g":2},{"x":-2.92,"y":1.08,"g":2},{"x":-2.67,"y":0.88,"g":2},{"x":-2.35,"y":0.71,"g":2},{"x":-2.04,"y":0.41,"g":2},{"x":-1.66,"y":0.31,"g":2},{"x":-1.35,"y":0.14,"g":2},{"x":-1.15,"y":0.35,"g":2},{"x":-0.9,"y":0.61,"g":2},{"x":-0.78,"y":1.08,"g":2},{"x":-0.65,"y":0.51,"g":2},{"x":-0.4,"y":0.76,"g":2},{"x":-0.14,"y":0.96,"g":2},{"x":0,"y":0.96,"g":2},{"x":0.13,"y":1.43,"g":2},{"x":0.24,"y":1.9,"g":2},{"x":0.34,"y":1.37,"g":2},{"x":0.46,"y":1.84,"g":2},{"x":0.59,"y":1.73,"g":2},{"x":0.71,"y":1.98,"g":2},{"x":0.84,"y":1.84,"g":2},{"x":1.02,"y":4.0,"g":2},{"x":1.09,"y":3.16,"g":2},{"x":1.22,"y":2.04,"g":2},{"x":1.34,"y":0.92,"g":2},{"x":1.5,"y":0.41,"g":2},{"x":1.69,"y":0.2,"g":2},{"x":1.98,"y":0,"g":2}],
 "one": [{}]
},
"spacing": 16,
"vconcat": [
 {
  "title": {"text": "(a)", "anchor": "start", "fontSize": 17, "fontWeight": "normal", "font": "DejaVu Sans", "color": "#000", "offset": 12, "dx": -9},
  "spacing": 0,
  "bounds": "flush",
  "vconcat": [
   {"width": 475, "height": 65.7, "resolve": {"scale": {"y": "independent"}}, "layer": [
     {"data": {"name": "a1"}, "mark": {"type": "line", "stroke": "#333", "strokeWidth": 0.8, "clip": true}, "encoding": {
       "x": {"field": "x", "type": "quantitative", "scale": {"domain": [-18, 3], "nice": false, "zero": false}, "axis": {"values": [-18,-17,-16,-15,-14,-13,-12,-11,-10,-9,-8,-7,-6,-5,-4,-3,-2,-1,0,1,2,3], "tickCount": 40, "labels": false, "title": null, "tickSize": {"condition": {"test": "datum.value % 5 === 0", "value": -6}, "value": -3}}},
       "y": {"field": "y", "type": "quantitative", "scale": {"domain": [0, 1], "nice": false}, "axis": {"values": [0, 0.25, 0.5, 0.75, 1], "tickCount": 40, "format": "~g", "labelExpr": "datum.value == 0.25 || datum.value == 0.75 ? '' : datum.label", "title": null, "labelPadding": 16, "tickSize": {"condition": {"test": "datum.value == 0.5", "value": -6}, "value": -3}}}}},
     {"data": {"name": "one"}, "mark": {"type": "rule", "stroke": "#777", "strokeDash": [1, 2], "strokeWidth": 0.8}, "encoding": {"x": {"datum": 0, "type": "quantitative"}}},
     {"data": {"name": "one"}, "mark": {"type": "text", "font": "DejaVu Sans", "fontStyle": "italic", "fontSize": 15, "align": "left", "baseline": "alphabetic", "color": "#000"}, "encoding": {"x": {"datum": -17.5, "type": "quantitative"}, "y": {"datum": 0.64, "type": "quantitative", "scale": {"domain": [0, 1], "nice": false}, "axis": {"orient": "right", "values": [0.25, 0.5, 0.75], "tickCount": 40, "labels": false, "title": null, "tickSize": {"condition": {"test": "datum.value == 0.5", "value": -6}, "value": -3}}}, "text": {"value": "Al Center"}}}
   ]},
   {"width": 475, "height": 65.7, "resolve": {"scale": {"y": "independent"}}, "layer": [
     {"data": {"name": "a2"}, "mark": {"type": "line", "stroke": "#333", "strokeWidth": 0.8, "clip": true}, "encoding": {
       "x": {"field": "x", "type": "quantitative", "scale": {"domain": [-18, 3], "nice": false, "zero": false}, "axis": {"values": [-18,-17,-16,-15,-14,-13,-12,-11,-10,-9,-8,-7,-6,-5,-4,-3,-2,-1,0,1,2,3], "tickCount": 40, "labels": false, "title": null, "tickSize": {"condition": {"test": "datum.value % 5 === 0", "value": -6}, "value": -3}}},
       "y": {"field": "y", "type": "quantitative", "scale": {"domain": [0, 1], "nice": false}, "axis": {"values": [0, 0.25, 0.5, 0.75], "tickCount": 40, "format": "~g", "labelExpr": "datum.value == 0.25 || datum.value == 0.75 ? '' : datum.label", "title": null, "labelPadding": 16, "tickSize": {"condition": {"test": "datum.value == 0.5", "value": -6}, "value": -3}}}}},
     {"data": {"name": "one"}, "mark": {"type": "rule", "stroke": "#777", "strokeDash": [1, 2], "strokeWidth": 0.8}, "encoding": {"x": {"datum": 0, "type": "quantitative"}}},
     {"data": {"name": "one"}, "mark": {"type": "text", "font": "DejaVu Sans", "fontStyle": "italic", "fontSize": 15, "align": "left", "baseline": "alphabetic", "color": "#000"}, "encoding": {"x": {"datum": -17.5, "type": "quantitative"}, "y": {"datum": 0.64, "type": "quantitative", "scale": {"domain": [0, 1], "nice": false}, "axis": {"orient": "right", "values": [0.25, 0.5, 0.75], "tickCount": 40, "labels": false, "title": null, "tickSize": {"condition": {"test": "datum.value == 0.5", "value": -6}, "value": -3}}}, "text": {"value": "Al Sub\u2212interface"}}}
   ]},
   {"width": 475, "height": 65.7, "resolve": {"scale": {"y": "independent"}}, "layer": [
     {"data": {"name": "a3"}, "mark": {"type": "line", "stroke": "#333", "strokeWidth": 0.8, "clip": true}, "encoding": {
       "x": {"field": "x", "type": "quantitative", "scale": {"domain": [-18, 3], "nice": false, "zero": false}, "axis": {"values": [-18,-17,-16,-15,-14,-13,-12,-11,-10,-9,-8,-7,-6,-5,-4,-3,-2,-1,0,1,2,3], "tickCount": 40, "labels": false, "title": null, "tickSize": {"condition": {"test": "datum.value % 5 === 0", "value": -6}, "value": -3}}},
       "y": {"field": "y", "type": "quantitative", "scale": {"domain": [0, 1], "nice": false}, "axis": {"values": [0, 0.25, 0.5, 0.75], "tickCount": 40, "format": "~g", "labelExpr": "datum.value == 0.25 || datum.value == 0.75 ? '' : datum.label", "title": null, "labelPadding": 16, "tickSize": {"condition": {"test": "datum.value == 0.5", "value": -6}, "value": -3}}},
       "detail": {"field": "g"}}},
     {"data": {"name": "one"}, "mark": {"type": "rule", "stroke": "#777", "strokeDash": [1, 2], "strokeWidth": 0.8}, "encoding": {"x": {"datum": 0, "type": "quantitative"}}},
     {"data": {"name": "one"}, "mark": {"type": "text", "font": "DejaVu Sans", "fontStyle": "italic", "fontSize": 15, "align": "left", "baseline": "alphabetic", "color": "#000"}, "encoding": {"x": {"datum": -17.5, "type": "quantitative"}, "y": {"datum": 0.64, "type": "quantitative", "scale": {"domain": [0, 1], "nice": false}, "axis": {"orient": "right", "values": [0.25, 0.5, 0.75], "tickCount": 40, "labels": false, "title": null, "tickSize": {"condition": {"test": "datum.value == 0.5", "value": -6}, "value": -3}}}, "text": {"value": "Al Interface"}}}
   ]},
   {"width": 475, "height": 65.7, "resolve": {"scale": {"y": "independent"}}, "layer": [
     {"data": {"name": "a4"}, "mark": {"type": "line", "stroke": "#333", "strokeWidth": 0.8, "clip": true}, "encoding": {
       "x": {"field": "x", "type": "quantitative", "scale": {"domain": [-18, 3], "nice": false, "zero": false}, "axis": {"values": [-18,-17,-16,-15,-14,-13,-12,-11,-10,-9,-8,-7,-6,-5,-4,-3,-2,-1,0,1,2,3], "tickCount": 40, "labels": false, "title": null, "tickSize": {"condition": {"test": "datum.value % 5 === 0", "value": -6}, "value": -3}}},
       "y": {"field": "y", "type": "quantitative", "scale": {"domain": [0, 4], "nice": false}, "axis": {"values": [0, 1, 2, 3], "tickCount": 40, "format": "~g", "labelExpr": "datum.value == 1 || datum.value == 3 ? '' : datum.label", "title": "# States (eV\u207b\u00b9 layer\u207b\u00b9)", "titlePadding": 45, "titleY": 41, "labelPadding": 16, "tickSize": {"condition": {"test": "datum.value == 2", "value": -6}, "value": -3}}},
       "detail": {"field": "g"}}},
     {"data": {"name": "one"}, "mark": {"type": "rule", "stroke": "#777", "strokeDash": [1, 2], "strokeWidth": 0.8}, "encoding": {"x": {"datum": 0, "type": "quantitative"}}},
     {"data": {"name": "one"}, "mark": {"type": "text", "font": "DejaVu Sans", "fontStyle": "italic", "fontSize": 15, "align": "left", "baseline": "alphabetic", "color": "#000"}, "encoding": {"x": {"datum": -17.5, "type": "quantitative"}, "y": {"datum": 2.54, "type": "quantitative", "scale": {"domain": [0, 4], "nice": false}, "axis": {"orient": "right", "values": [1, 2, 3], "tickCount": 40, "labels": false, "title": null, "tickSize": {"condition": {"test": "datum.value == 2", "value": -6}, "value": -3}}}, "text": {"value": "VN Interface"}}}
   ]},
   {"width": 475, "height": 65.7, "resolve": {"scale": {"y": "independent"}}, "layer": [
     {"data": {"name": "a5"}, "mark": {"type": "line", "stroke": "#333", "strokeWidth": 0.8, "clip": true}, "encoding": {
       "x": {"field": "x", "type": "quantitative", "scale": {"domain": [-18, 3], "nice": false, "zero": false}, "axis": {"values": [-18,-17,-16,-15,-14,-13,-12,-11,-10,-9,-8,-7,-6,-5,-4,-3,-2,-1,0,1,2,3], "tickCount": 40, "labels": false, "title": null, "tickSize": {"condition": {"test": "datum.value % 5 === 0", "value": -6}, "value": -3}}},
       "y": {"field": "y", "type": "quantitative", "scale": {"domain": [0, 4], "nice": false}, "axis": {"values": [0, 1, 2, 3], "tickCount": 40, "format": "~g", "labelExpr": "datum.value == 1 || datum.value == 3 ? '' : datum.label", "title": null, "labelPadding": 16, "tickSize": {"condition": {"test": "datum.value == 2", "value": -6}, "value": -3}}},
       "detail": {"field": "g"}}},
     {"data": {"name": "one"}, "mark": {"type": "rule", "stroke": "#777", "strokeDash": [1, 2], "strokeWidth": 0.8}, "encoding": {"x": {"datum": 0, "type": "quantitative"}}},
     {"data": {"name": "one"}, "mark": {"type": "text", "font": "DejaVu Sans", "fontStyle": "italic", "fontSize": 15, "align": "left", "baseline": "alphabetic", "color": "#000"}, "encoding": {"x": {"datum": -17.5, "type": "quantitative"}, "y": {"datum": 2.54, "type": "quantitative", "scale": {"domain": [0, 4], "nice": false}, "axis": {"orient": "right", "values": [1, 2, 3], "tickCount": 40, "labels": false, "title": null, "tickSize": {"condition": {"test": "datum.value == 2", "value": -6}, "value": -3}}}, "text": {"value": "VN Sub\u2212interface"}}}
   ]},
   {"width": 475, "height": 65.7, "resolve": {"scale": {"y": "independent"}}, "layer": [
     {"data": {"name": "a6"}, "mark": {"type": "line", "stroke": "#333", "strokeWidth": 0.8, "clip": true}, "encoding": {
       "x": {"field": "x", "type": "quantitative", "scale": {"domain": [-18, 3], "nice": false, "zero": false}, "axis": {"values": [-18,-17,-16,-15,-14,-13,-12,-11,-10,-9,-8,-7,-6,-5,-4,-3,-2,-1,0,1,2,3], "tickCount": 40, "labels": false, "title": null, "tickSize": {"condition": {"test": "datum.value % 5 === 0", "value": -6}, "value": -3}}},
       "y": {"field": "y", "type": "quantitative", "scale": {"domain": [0, 4], "nice": false}, "axis": {"values": [0, 1, 2, 3], "tickCount": 40, "format": "~g", "labelExpr": "datum.value == 1 || datum.value == 3 ? '' : datum.label", "title": null, "labelPadding": 16, "tickSize": {"condition": {"test": "datum.value == 2", "value": -6}, "value": -3}}},
       "detail": {"field": "g"}}},
     {"data": {"name": "one"}, "mark": {"type": "rule", "stroke": "#777", "strokeDash": [1, 2], "strokeWidth": 0.8}, "encoding": {"x": {"datum": 0, "type": "quantitative"}}},
     {"data": {"name": "one"}, "mark": {"type": "text", "font": "DejaVu Sans", "fontStyle": "italic", "fontSize": 15, "align": "left", "baseline": "alphabetic", "color": "#000"}, "encoding": {"x": {"datum": -17.5, "type": "quantitative"}, "y": {"datum": 2.54, "type": "quantitative", "scale": {"domain": [0, 4], "nice": false}, "axis": {"orient": "right", "values": [1, 2, 3], "tickCount": 40, "labels": false, "title": null, "tickSize": {"condition": {"test": "datum.value == 2", "value": -6}, "value": -3}}}, "text": {"value": ""}}}
   ]},
   {"width": 475, "height": 65.7, "resolve": {"scale": {"y": "independent"}}, "layer": [
     {"data": {"name": "a7"}, "mark": {"type": "line", "stroke": "#333", "strokeWidth": 0.8, "clip": true}, "encoding": {
       "x": {"field": "x", "type": "quantitative", "scale": {"domain": [-18, 3], "nice": false, "zero": false}, "axis": {"values": [-18,-17,-16,-15,-14,-13,-12,-11,-10,-9,-8,-7,-6,-5,-4,-3,-2,-1,0,1,2,3], "tickCount": 40, "format": "d", "labelExpr": "datum.value % 5 === 0 ? datum.label : ''", "labelPadding": 14, "title": "Energy (eV)", "titlePadding": 10, "tickSize": {"condition": {"test": "datum.value % 5 === 0", "value": -6}, "value": -3}}},
       "y": {"field": "y", "type": "quantitative", "scale": {"domain": [0, 4], "nice": false}, "axis": {"values": [0, 1, 2, 3], "tickCount": 40, "format": "~g", "labelExpr": "datum.value == 1 || datum.value == 3 ? '' : datum.label", "title": null, "labelPadding": 16, "tickSize": {"condition": {"test": "datum.value == 2", "value": -6}, "value": -3}}},
       "detail": {"field": "g"}}},
     {"data": {"name": "one"}, "mark": {"type": "rule", "stroke": "#777", "strokeDash": [1, 2], "strokeWidth": 0.8}, "encoding": {"x": {"datum": 0, "type": "quantitative"}}},
     {"data": {"name": "one"}, "mark": {"type": "text", "font": "DejaVu Sans", "fontStyle": "italic", "fontSize": 15, "align": "left", "baseline": "alphabetic", "color": "#000"}, "encoding": {"x": {"datum": -17.5, "type": "quantitative"}, "y": {"datum": 2.54, "type": "quantitative", "scale": {"domain": [0, 4], "nice": false}, "axis": {"orient": "right", "values": [1, 2, 3], "tickCount": 40, "labels": false, "title": null, "tickSize": {"condition": {"test": "datum.value == 2", "value": -6}, "value": -3}}}, "text": {"value": "VN Center"}}}
   ]}
  ]
 },
 {
  "title": {"text": "(b)", "anchor": "start", "fontSize": 17, "fontWeight": "normal", "font": "DejaVu Sans", "color": "#000", "offset": 17, "dx": -9},
  "spacing": 0,
  "bounds": "flush",
  "vconcat": [
   {"width": 475, "height": 65.2, "resolve": {"scale": {"y": "independent"}}, "layer": [
     {"data": {"name": "b1"}, "mark": {"type": "line", "stroke": "#333", "strokeWidth": 0.8, "clip": true}, "encoding": {
       "x": {"field": "x", "type": "quantitative", "scale": {"domain": [-15, 3], "nice": false, "zero": false}, "axis": {"values": [-15,-14,-13,-12,-11,-10,-9,-8,-7,-6,-5,-4,-3,-2,-1,0,1,2,3], "tickCount": 40, "labels": false, "title": null, "tickSize": {"condition": {"test": "datum.value % 5 === 0", "value": -6}, "value": -3}}},
       "y": {"field": "y", "type": "quantitative", "scale": {"domain": [0, 1], "nice": false}, "axis": {"values": [0, 0.25, 0.5, 0.75, 1], "tickCount": 40, "format": "~g", "labelExpr": "datum.value == 0.25 || datum.value == 0.75 ? '' : datum.label", "title": null, "labelPadding": 16, "tickSize": {"condition": {"test": "datum.value == 0.5", "value": -6}, "value": -3}}}}},
     {"data": {"name": "one"}, "mark": {"type": "rule", "stroke": "#777", "strokeDash": [1, 2], "strokeWidth": 0.8}, "encoding": {"x": {"datum": 0, "type": "quantitative"}}},
     {"data": {"name": "one"}, "mark": {"type": "text", "font": "DejaVu Sans", "fontStyle": "italic", "fontSize": 15, "align": "left", "baseline": "alphabetic", "color": "#000"}, "encoding": {"x": {"datum": -14.58, "type": "quantitative"}, "y": {"datum": 0.64, "type": "quantitative", "scale": {"domain": [0, 1], "nice": false}, "axis": {"orient": "right", "values": [0.25, 0.5, 0.75], "tickCount": 40, "labels": false, "title": null, "tickSize": {"condition": {"test": "datum.value == 0.5", "value": -6}, "value": -3}}}, "text": {"value": "Al Center"}}}
   ]},
   {"width": 475, "height": 65.2, "resolve": {"scale": {"y": "independent"}}, "layer": [
     {"data": {"name": "b2"}, "mark": {"type": "line", "stroke": "#333", "strokeWidth": 0.8, "clip": true}, "encoding": {
       "x": {"field": "x", "type": "quantitative", "scale": {"domain": [-15, 3], "nice": false, "zero": false}, "axis": {"values": [-15,-14,-13,-12,-11,-10,-9,-8,-7,-6,-5,-4,-3,-2,-1,0,1,2,3], "tickCount": 40, "labels": false, "title": null, "tickSize": {"condition": {"test": "datum.value % 5 === 0", "value": -6}, "value": -3}}},
       "y": {"field": "y", "type": "quantitative", "scale": {"domain": [0, 1], "nice": false}, "axis": {"values": [0, 0.25, 0.5, 0.75], "tickCount": 40, "format": "~g", "labelExpr": "datum.value == 0.25 || datum.value == 0.75 ? '' : datum.label", "title": null, "labelPadding": 16, "tickSize": {"condition": {"test": "datum.value == 0.5", "value": -6}, "value": -3}}}}},
     {"data": {"name": "one"}, "mark": {"type": "rule", "stroke": "#777", "strokeDash": [1, 2], "strokeWidth": 0.8}, "encoding": {"x": {"datum": 0, "type": "quantitative"}}},
     {"data": {"name": "one"}, "mark": {"type": "text", "font": "DejaVu Sans", "fontStyle": "italic", "fontSize": 15, "align": "left", "baseline": "alphabetic", "color": "#000"}, "encoding": {"x": {"datum": -14.58, "type": "quantitative"}, "y": {"datum": 0.64, "type": "quantitative", "scale": {"domain": [0, 1], "nice": false}, "axis": {"orient": "right", "values": [0.25, 0.5, 0.75], "tickCount": 40, "labels": false, "title": null, "tickSize": {"condition": {"test": "datum.value == 0.5", "value": -6}, "value": -3}}}, "text": {"value": "Al Sub\u2212interface"}}}
   ]},
   {"width": 475, "height": 65.2, "resolve": {"scale": {"y": "independent"}}, "layer": [
     {"data": {"name": "b3"}, "mark": {"type": "line", "stroke": "#333", "strokeWidth": 0.8, "clip": true}, "encoding": {
       "x": {"field": "x", "type": "quantitative", "scale": {"domain": [-15, 3], "nice": false, "zero": false}, "axis": {"values": [-15,-14,-13,-12,-11,-10,-9,-8,-7,-6,-5,-4,-3,-2,-1,0,1,2,3], "tickCount": 40, "labels": false, "title": null, "tickSize": {"condition": {"test": "datum.value % 5 === 0", "value": -6}, "value": -3}}},
       "y": {"field": "y", "type": "quantitative", "scale": {"domain": [0, 1], "nice": false}, "axis": {"values": [0, 0.25, 0.5, 0.75], "tickCount": 40, "format": "~g", "labelExpr": "datum.value == 0.25 || datum.value == 0.75 ? '' : datum.label", "title": null, "labelPadding": 16, "tickSize": {"condition": {"test": "datum.value == 0.5", "value": -6}, "value": -3}}}}},
     {"data": {"name": "one"}, "mark": {"type": "rule", "stroke": "#777", "strokeDash": [1, 2], "strokeWidth": 0.8}, "encoding": {"x": {"datum": 0, "type": "quantitative"}}},
     {"data": {"name": "one"}, "mark": {"type": "text", "font": "DejaVu Sans", "fontStyle": "italic", "fontSize": 15, "align": "left", "baseline": "alphabetic", "color": "#000"}, "encoding": {"x": {"datum": -14.58, "type": "quantitative"}, "y": {"datum": 0.64, "type": "quantitative", "scale": {"domain": [0, 1], "nice": false}, "axis": {"orient": "right", "values": [0.25, 0.5, 0.75], "tickCount": 40, "labels": false, "title": null, "tickSize": {"condition": {"test": "datum.value == 0.5", "value": -6}, "value": -3}}}, "text": {"value": "Al Interface"}}}
   ]},
   {"width": 475, "height": 65.2, "resolve": {"scale": {"y": "independent"}}, "layer": [
     {"data": {"name": "b4"}, "mark": {"type": "line", "stroke": "#333", "strokeWidth": 0.8, "clip": true}, "encoding": {
       "x": {"field": "x", "type": "quantitative", "scale": {"domain": [-15, 3], "nice": false, "zero": false}, "axis": {"values": [-15,-14,-13,-12,-11,-10,-9,-8,-7,-6,-5,-4,-3,-2,-1,0,1,2,3], "tickCount": 40, "labels": false, "title": null, "tickSize": {"condition": {"test": "datum.value % 5 === 0", "value": -6}, "value": -3}}},
       "y": {"field": "y", "type": "quantitative", "scale": {"domain": [0, 4], "nice": false}, "axis": {"values": [0, 1, 2, 3], "tickCount": 40, "format": "~g", "labelExpr": "datum.value == 1 || datum.value == 3 ? '' : datum.label", "title": "# States (eV\u207b\u00b9 layer\u207b\u00b9)", "titlePadding": 45, "titleY": 41, "labelPadding": 16, "tickSize": {"condition": {"test": "datum.value == 2", "value": -6}, "value": -3}}},
       "detail": {"field": "g"}}},
     {"data": {"name": "one"}, "mark": {"type": "rule", "stroke": "#777", "strokeDash": [1, 2], "strokeWidth": 0.8}, "encoding": {"x": {"datum": 0, "type": "quantitative"}}},
     {"data": {"name": "one"}, "mark": {"type": "text", "font": "DejaVu Sans", "fontStyle": "italic", "fontSize": 15, "align": "left", "baseline": "alphabetic", "color": "#000"}, "encoding": {"x": {"datum": -14.58, "type": "quantitative"}, "y": {"datum": 2.54, "type": "quantitative", "scale": {"domain": [0, 4], "nice": false}, "axis": {"orient": "right", "values": [1, 2, 3], "tickCount": 40, "labels": false, "title": null, "tickSize": {"condition": {"test": "datum.value == 2", "value": -6}, "value": -3}}}, "text": {"value": "VC Interface"}}}
   ]},
   {"width": 475, "height": 65.2, "resolve": {"scale": {"y": "independent"}}, "layer": [
     {"data": {"name": "b5"}, "mark": {"type": "line", "stroke": "#333", "strokeWidth": 0.8, "clip": true}, "encoding": {
       "x": {"field": "x", "type": "quantitative", "scale": {"domain": [-15, 3], "nice": false, "zero": false}, "axis": {"values": [-15,-14,-13,-12,-11,-10,-9,-8,-7,-6,-5,-4,-3,-2,-1,0,1,2,3], "tickCount": 40, "labels": false, "title": null, "tickSize": {"condition": {"test": "datum.value % 5 === 0", "value": -6}, "value": -3}}},
       "y": {"field": "y", "type": "quantitative", "scale": {"domain": [0, 4], "nice": false}, "axis": {"values": [0, 1, 2, 3], "tickCount": 40, "format": "~g", "labelExpr": "datum.value == 1 || datum.value == 3 ? '' : datum.label", "title": null, "labelPadding": 16, "tickSize": {"condition": {"test": "datum.value == 2", "value": -6}, "value": -3}}},
       "detail": {"field": "g"}}},
     {"data": {"name": "one"}, "mark": {"type": "rule", "stroke": "#777", "strokeDash": [1, 2], "strokeWidth": 0.8}, "encoding": {"x": {"datum": 0, "type": "quantitative"}}},
     {"data": {"name": "one"}, "mark": {"type": "text", "font": "DejaVu Sans", "fontStyle": "italic", "fontSize": 15, "align": "left", "baseline": "alphabetic", "color": "#000"}, "encoding": {"x": {"datum": -14.58, "type": "quantitative"}, "y": {"datum": 2.54, "type": "quantitative", "scale": {"domain": [0, 4], "nice": false}, "axis": {"orient": "right", "values": [1, 2, 3], "tickCount": 40, "labels": false, "title": null, "tickSize": {"condition": {"test": "datum.value == 2", "value": -6}, "value": -3}}}, "text": {"value": "VC Sub\u2212interface"}}}
   ]},
   {"width": 475, "height": 65.2, "resolve": {"scale": {"y": "independent"}}, "layer": [
     {"data": {"name": "b6"}, "mark": {"type": "line", "stroke": "#333", "strokeWidth": 0.8, "clip": true}, "encoding": {
       "x": {"field": "x", "type": "quantitative", "scale": {"domain": [-15, 3], "nice": false, "zero": false}, "axis": {"values": [-15,-14,-13,-12,-11,-10,-9,-8,-7,-6,-5,-4,-3,-2,-1,0,1,2,3], "tickCount": 40, "labels": false, "title": null, "tickSize": {"condition": {"test": "datum.value % 5 === 0", "value": -6}, "value": -3}}},
       "y": {"field": "y", "type": "quantitative", "scale": {"domain": [0, 4], "nice": false}, "axis": {"values": [0, 1, 2, 3], "tickCount": 40, "format": "~g", "labelExpr": "datum.value == 1 || datum.value == 3 ? '' : datum.label", "title": null, "labelPadding": 16, "tickSize": {"condition": {"test": "datum.value == 2", "value": -6}, "value": -3}}},
       "detail": {"field": "g"}}},
     {"data": {"name": "one"}, "mark": {"type": "rule", "stroke": "#777", "strokeDash": [1, 2], "strokeWidth": 0.8}, "encoding": {"x": {"datum": 0, "type": "quantitative"}}},
     {"data": {"name": "one"}, "mark": {"type": "text", "font": "DejaVu Sans", "fontStyle": "italic", "fontSize": 15, "align": "left", "baseline": "alphabetic", "color": "#000"}, "encoding": {"x": {"datum": -14.58, "type": "quantitative"}, "y": {"datum": 2.54, "type": "quantitative", "scale": {"domain": [0, 4], "nice": false}, "axis": {"orient": "right", "values": [1, 2, 3], "tickCount": 40, "labels": false, "title": null, "tickSize": {"condition": {"test": "datum.value == 2", "value": -6}, "value": -3}}}, "text": {"value": ""}}}
   ]},
   {"width": 475, "height": 65.2, "resolve": {"scale": {"y": "independent"}}, "layer": [
     {"data": {"name": "b7"}, "mark": {"type": "line", "stroke": "#333", "strokeWidth": 0.8, "clip": true}, "encoding": {
       "x": {"field": "x", "type": "quantitative", "scale": {"domain": [-15, 3], "nice": false, "zero": false}, "axis": {"values": [-15,-14,-13,-12,-11,-10,-9,-8,-7,-6,-5,-4,-3,-2,-1,0,1,2,3], "tickCount": 40, "format": "d", "labelExpr": "datum.value % 5 === 0 ? datum.label : ''", "labelPadding": 13, "title": "Energy (eV)", "titlePadding": 8, "tickSize": {"condition": {"test": "datum.value % 5 === 0", "value": -6}, "value": -3}}},
       "y": {"field": "y", "type": "quantitative", "scale": {"domain": [0, 4], "nice": false}, "axis": {"values": [0, 1, 2, 3], "tickCount": 40, "format": "~g", "labelExpr": "datum.value == 1 || datum.value == 3 ? '' : datum.label", "title": null, "labelPadding": 16, "tickSize": {"condition": {"test": "datum.value == 2", "value": -6}, "value": -3}}},
       "detail": {"field": "g"}}},
     {"data": {"name": "one"}, "mark": {"type": "rule", "stroke": "#777", "strokeDash": [1, 2], "strokeWidth": 0.8}, "encoding": {"x": {"datum": 0, "type": "quantitative"}}},
     {"data": {"name": "one"}, "mark": {"type": "text", "font": "DejaVu Sans", "fontStyle": "italic", "fontSize": 15, "align": "left", "baseline": "alphabetic", "color": "#000"}, "encoding": {"x": {"datum": -14.58, "type": "quantitative"}, "y": {"datum": 2.54, "type": "quantitative", "scale": {"domain": [0, 4], "nice": false}, "axis": {"orient": "right", "values": [1, 2, 3], "tickCount": 40, "labels": false, "title": null, "tickSize": {"condition": {"test": "datum.value == 2", "value": -6}, "value": -3}}}, "text": {"value": "VC Center"}}}
   ]}
  ]
 }
]
}
